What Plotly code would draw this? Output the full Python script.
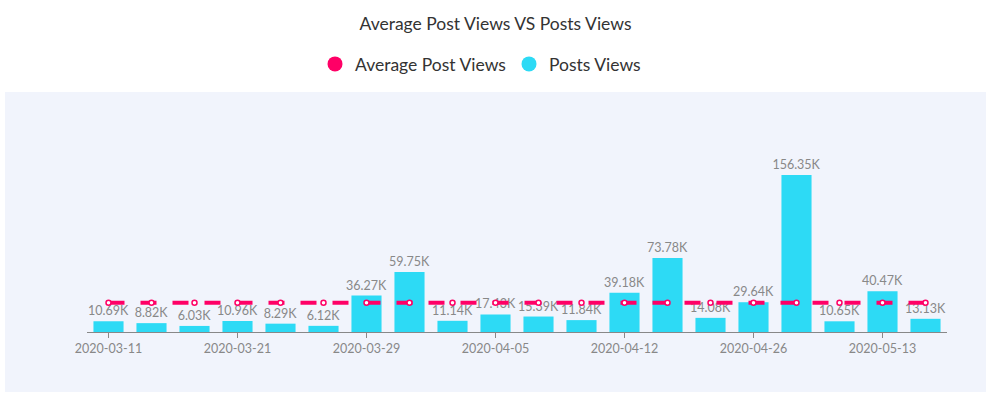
import plotly.graph_objects as go

dates = ["2020-03-11", "2020-03-14", "2020-03-17", "2020-03-21", "2020-03-23",
         "2020-03-26", "2020-03-29", "2020-03-31", "2020-04-02", "2020-04-05",
         "2020-04-07", "2020-04-10", "2020-04-12", "2020-04-15", "2020-04-20",
         "2020-04-26", "2020-04-30", "2020-05-06", "2020-05-13", "2020-05-18"]
post_views = [10.69, 8.82, 6.03, 10.96, 8.29, 6.12, 36.27, 59.75, 11.14, 17.43,
              15.39, 11.84, 39.18, 73.78, 14.08, 29.64, 156.35, 10.65, 40.47, 13.13]
avg_views = [29.0] * 20
labels = [f"{v:.2f}K" for v in post_views]

PINK = "#ff0066"
CYAN = "#2ddaf5"
FONT = "Lato, 'Open Sans', sans-serif"

fig = go.Figure()
fig.add_trace(go.Bar(
    x=dates, y=post_views, name="Posts Views", marker_color=CYAN,
    marker_line_width=0, text=labels, textposition="outside",
    constraintext="none",
    textfont=dict(color="#888888", size=12.5), cliponaxis=False,
    showlegend=False, hoverinfo="x+y"))
fig.add_trace(go.Scatter(
    x=dates, y=avg_views, name="Average Post Views", mode="lines+markers",
    line=dict(color=PINK, width=4, dash="16px,16px"),
    marker=dict(symbol="circle", size=5, color="white",
                line=dict(color=PINK, width=1.5)),
    showlegend=False))
# legend entries (circle markers)
fig.add_trace(go.Scatter(x=[None], y=[None], mode="markers", name="Average Post Views",
                         marker=dict(size=15, color=PINK)))
fig.add_trace(go.Scatter(x=[None], y=[None], mode="markers", name="Posts Views",
                         marker=dict(size=15, color=CYAN)))

fig.update_layout(
    width=991, height=397,
    margin=dict(l=87, r=44, t=110, b=65),
    paper_bgcolor="white", plot_bgcolor="rgba(0,0,0,0)",
    font=dict(family=FONT, color="#333333"),
    title=dict(text="Average Post Views VS Posts Views", x=0.5, xanchor="center",
               y=1 - 24 / 397, yanchor="middle", yref="container",
               font=dict(size=17.5, color="#333333", family=FONT)),
    legend=dict(orientation="h", x=0.5 - 8 / 860, xanchor="center", y=1 - 64 / 397,
                yanchor="middle", yref="container", itemwidth=30,
                entrywidth=149, entrywidthmode="pixels",
                font=dict(size=17.5, color="#333333", family=FONT),
                itemclick=False),
    bargap=0.3,
    shapes=[dict(type="rect", xref="paper", yref="paper",
                 x0=(5 - 87) / 860, x1=(986 - 87) / 860,
                 y0=(332 - 392) / 222, y1=(332 - 92) / 222,
                 fillcolor="#f1f4fc", line_width=0, layer="below")],
)
fig.update_xaxes(type="category", tickmode="array", tickvals=dates[::3],
                 ticktext=dates[::3], showline=True, linecolor="#888888",
                 linewidth=1, ticks="outside", ticklen=5, tickcolor="#888888",
                 tickfont=dict(size=12.5, color="#888888"), showgrid=False,
                 range=[-0.5, 19.5])
fig.update_yaxes(visible=False, range=[0, 221], showgrid=False)

fig.write_html("out.html", config={"displayModeBar": False},
               post_script="document.body.style.margin='0';")
